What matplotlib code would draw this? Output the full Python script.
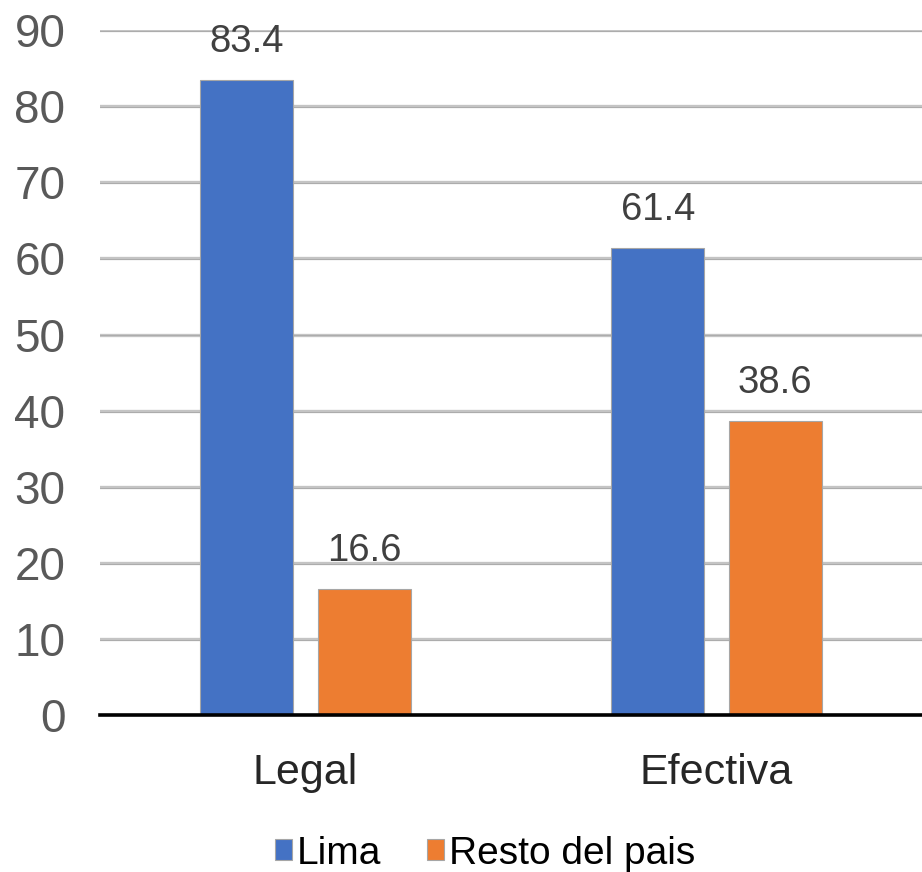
import matplotlib
matplotlib.use("Agg")
import matplotlib.pyplot as plt
import numpy as np

# ---- data ----------------------------------------------------------------
categories = ["Legal", "Efectiva"]
series_names = ["Lima", "Resto del pais"]
lima = [83.4, 61.4]
resto = [16.6, 38.6]
y_ticks = [0, 10, 20, 30, 40, 50, 60, 70, 80, 90]

colors = ["#4472C4", "#ED7D31"]

plt.rcParams["font.family"] = ["Liberation Sans", "DejaVu Sans"]

fig = plt.figure(figsize=(9.22, 8.72), dpi=100)
ax = fig.add_axes([0.1085, 0.180, 0.8915, 0.7855])

x = np.arange(len(categories))
width = 0.226
offset = 0.143

for i, (vals, name) in enumerate(zip([lima, resto], series_names)):
    pos = x + (offset if i else -offset)
    bars = ax.bar(pos, vals, width, color=colors[i], label=name,
                  edgecolor="#a6a6a6", linewidth=0.8, zorder=3)
    for b, v in zip(bars, vals):
        ax.annotate(f"{v:.1f}", (b.get_x() + b.get_width() / 2, v),
                    xytext=(0, 20), textcoords="offset pixels",
                    ha="center", va="bottom", fontsize=27.5,
                    color="#404040", zorder=4)

ax.set_xlim(-0.5, 1.5)
ax.set_ylim(0, 90)
ax.set_yticks(y_ticks)
ax.set_xticks(x)
ax.set_xticklabels(categories, fontsize=31, color="#262626")
ax.tick_params(axis="y", labelsize=33, labelcolor="#595959", length=0, pad=25)
ax.tick_params(axis="x", length=0, pad=27)

for y in y_ticks[1:]:
    ax.axhline(y, color="#c4c4c4", linewidth=2.4, zorder=1)
    ax.axhline(y - 0.12, color="#a8a8a8", linewidth=0.6, zorder=1)

for s in ["top", "right", "left"]:
    ax.spines[s].set_visible(False)
ax.spines["bottom"].set_color("black")
ax.spines["bottom"].set_linewidth(2.6)
ax.spines["bottom"].set_zorder(5)

handles, labels = ax.get_legend_handles_labels()
fig.legend(handles, labels, loc="center", bbox_to_anchor=(0.526, 0.021), ncol=2,
           frameon=False, fontsize=28, handlelength=0.44, handleheight=0.44,
           handletextpad=0.12, columnspacing=1.2, borderpad=0)

fig.savefig("out.png", dpi=100, facecolor="white")
